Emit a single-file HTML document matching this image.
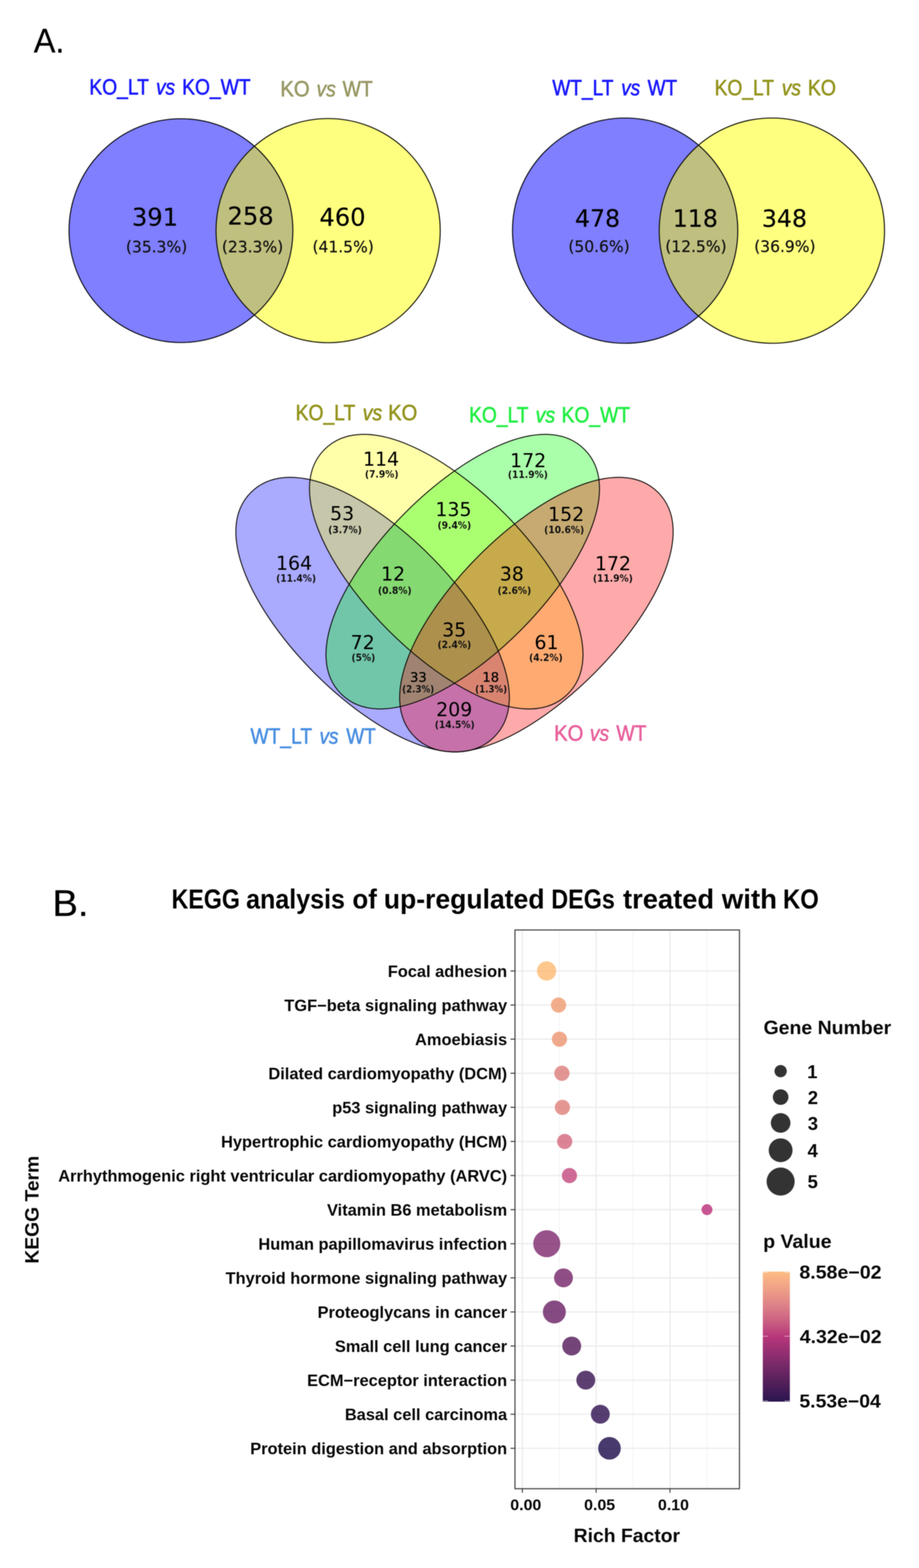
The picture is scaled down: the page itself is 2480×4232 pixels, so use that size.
<!DOCTYPE html>
<html lang="en">
<head>
<meta charset="utf-8">
<title>Venn diagrams and KEGG analysis</title>
<style>
html,body{margin:0;padding:0;background:#fff;}
body{width:2480px;height:4232px;overflow:hidden;}
svg{display:block;filter:blur(0.8px);}
text{white-space:pre;}
</style>
</head>
<body>
<svg width="2480" height="4232" viewBox="0 0 2480 4232">
<rect x="0" y="0" width="2480" height="4232" fill="#ffffff"/>
<g id="panelA">
<text x="90.9" y="142.4" font-size="93" fill="#000" font-family='"Liberation Sans", Arial, Helvetica, sans-serif' textLength="83.0" lengthAdjust="spacingAndGlyphs" stroke="#000" stroke-width="0.6" stroke-linejoin="round">A.</text>
<circle cx="488.3" cy="622.5" r="302" fill="#0000ff" fill-opacity="0.5"/>
<circle cx="885.5" cy="622.5" r="302.5" fill="#ffff00" fill-opacity="0.5"/>
<circle cx="488.3" cy="622.5" r="302" fill="none" stroke="#08080f" stroke-width="2.7"/>
<circle cx="885.5" cy="622.5" r="302.5" fill="none" stroke="#0d0d04" stroke-width="2.7"/>
<text x="356.0" y="609.0" font-size="65.5" fill="#000" font-family='"DejaVu Sans", "Liberation Sans", sans-serif' textLength="124.6" lengthAdjust="spacingAndGlyphs" stroke="#000" stroke-width="0.4" stroke-linejoin="round">391</text>
<text x="339.7" y="680.5" font-size="43.5" fill="#111" font-family='"DejaVu Sans", "Liberation Sans", sans-serif' textLength="165.6" lengthAdjust="spacingAndGlyphs" stroke="#111" stroke-width="0.5" stroke-linejoin="round">(35.3%)</text>
<text x="614.0" y="606.0" font-size="65.5" fill="#000" font-family='"DejaVu Sans", "Liberation Sans", sans-serif' textLength="124.6" lengthAdjust="spacingAndGlyphs" stroke="#000" stroke-width="0.4" stroke-linejoin="round">258</text>
<text x="598.7" y="680.5" font-size="43.5" fill="#111" font-family='"DejaVu Sans", "Liberation Sans", sans-serif' textLength="165.6" lengthAdjust="spacingAndGlyphs" stroke="#111" stroke-width="0.5" stroke-linejoin="round">(23.3%)</text>
<text x="862.0" y="609.0" font-size="65.5" fill="#000" font-family='"DejaVu Sans", "Liberation Sans", sans-serif' textLength="124.6" lengthAdjust="spacingAndGlyphs" stroke="#000" stroke-width="0.4" stroke-linejoin="round">460</text>
<text x="843.2" y="680.5" font-size="43.5" fill="#111" font-family='"DejaVu Sans", "Liberation Sans", sans-serif' textLength="165.6" lengthAdjust="spacingAndGlyphs" stroke="#111" stroke-width="0.5" stroke-linejoin="round">(41.5%)</text>
<circle cx="1687" cy="622.5" r="304" fill="#0000ff" fill-opacity="0.5"/>
<circle cx="2083" cy="622.5" r="304" fill="#ffff00" fill-opacity="0.5"/>
<circle cx="1687" cy="622.5" r="304" fill="none" stroke="#08080f" stroke-width="2.7"/>
<circle cx="2083" cy="622.5" r="304" fill="none" stroke="#0d0d04" stroke-width="2.7"/>
<text x="1551.7" y="612.0" font-size="64" fill="#000" font-family='"DejaVu Sans", "Liberation Sans", sans-serif' textLength="121.7" lengthAdjust="spacingAndGlyphs" stroke="#000" stroke-width="0.4" stroke-linejoin="round">478</text>
<text x="1533.7" y="680.0" font-size="43.5" fill="#111" font-family='"DejaVu Sans", "Liberation Sans", sans-serif' textLength="165.6" lengthAdjust="spacingAndGlyphs" stroke="#111" stroke-width="0.5" stroke-linejoin="round">(50.6%)</text>
<text x="1815.5" y="612.0" font-size="64" fill="#000" font-family='"DejaVu Sans", "Liberation Sans", sans-serif' textLength="121.7" lengthAdjust="spacingAndGlyphs" stroke="#000" stroke-width="0.4" stroke-linejoin="round">118</text>
<text x="1795.2" y="680.0" font-size="43.5" fill="#111" font-family='"DejaVu Sans", "Liberation Sans", sans-serif' textLength="165.6" lengthAdjust="spacingAndGlyphs" stroke="#111" stroke-width="0.5" stroke-linejoin="round">(12.5%)</text>
<text x="2056.0" y="612.0" font-size="64" fill="#000" font-family='"DejaVu Sans", "Liberation Sans", sans-serif' textLength="121.7" lengthAdjust="spacingAndGlyphs" stroke="#000" stroke-width="0.4" stroke-linejoin="round">348</text>
<text x="2035.2" y="680.0" font-size="43.5" fill="#111" font-family='"DejaVu Sans", "Liberation Sans", sans-serif' textLength="165.6" lengthAdjust="spacingAndGlyphs" stroke="#111" stroke-width="0.5" stroke-linejoin="round">(36.9%)</text>
<text y="255.2" font-size="60" fill="#1a1aff" font-family='"Liberation Sans", Arial, Helvetica, sans-serif' stroke="#1a1aff" stroke-width="1.5" stroke-linejoin="round"><tspan x="241.0" textLength="159.9" lengthAdjust="spacingAndGlyphs">KO_LT</tspan> <tspan x="421.3" textLength="51.0" lengthAdjust="spacingAndGlyphs" font-style="italic">vs</tspan> <tspan x="491.5" textLength="184.6" lengthAdjust="spacingAndGlyphs">KO_WT</tspan></text>
<text y="260.2" font-size="60" fill="#999966" font-family='"Liberation Sans", Arial, Helvetica, sans-serif' stroke="#999966" stroke-width="1.5" stroke-linejoin="round"><tspan x="756.6" textLength="79.1" lengthAdjust="spacingAndGlyphs">KO</tspan> <tspan x="854.2" textLength="52.0" lengthAdjust="spacingAndGlyphs" font-style="italic">vs</tspan> <tspan x="924.5" textLength="81.4" lengthAdjust="spacingAndGlyphs">WT</tspan></text>
<text y="257.2" font-size="60" fill="#1a1aff" font-family='"Liberation Sans", Arial, Helvetica, sans-serif' stroke="#1a1aff" stroke-width="1.5" stroke-linejoin="round"><tspan x="1490.5" textLength="164.0" lengthAdjust="spacingAndGlyphs">WT_LT</tspan> <tspan x="1676.6" textLength="50.9" lengthAdjust="spacingAndGlyphs" font-style="italic">vs</tspan> <tspan x="1747.8" textLength="79.4" lengthAdjust="spacingAndGlyphs">WT</tspan></text>
<text y="257.2" font-size="60" fill="#94941e" font-family='"Liberation Sans", Arial, Helvetica, sans-serif' stroke="#94941e" stroke-width="1.5" stroke-linejoin="round"><tspan x="1928.4" textLength="159.3" lengthAdjust="spacingAndGlyphs">KO_LT</tspan> <tspan x="2109.8" textLength="51.6" lengthAdjust="spacingAndGlyphs" font-style="italic">vs</tspan> <tspan x="2179.9" textLength="76.1" lengthAdjust="spacingAndGlyphs">KO</tspan></text>
</g>
<g id="venn4">
<path d="M0,-465.5 C296.40,-465.5 296.40,465.5 0,465.5 C-296.40,465.5 -296.40,-465.5 0,-465.5 Z" transform="translate(1005.5 1658.9) rotate(-44.80)" fill="#0000ff" fill-opacity="0.333"/>
<path d="M0,-465.5 C296.40,-465.5 296.40,465.5 0,465.5 C-296.40,465.5 -296.40,-465.5 0,-465.5 Z" transform="translate(1204.2 1542.9) rotate(-44.80)" fill="#ffff00" fill-opacity="0.333"/>
<path d="M0,-465.5 C296.40,-465.5 296.40,465.5 0,465.5 C-296.40,465.5 -296.40,-465.5 0,-465.5 Z" transform="translate(1248.8 1542.9) rotate(44.80)" fill="#00ff00" fill-opacity="0.333"/>
<path d="M0,-465.5 C296.40,-465.5 296.40,465.5 0,465.5 C-296.40,465.5 -296.40,-465.5 0,-465.5 Z" transform="translate(1447.5 1658.9) rotate(44.80)" fill="#ff0000" fill-opacity="0.333"/>
<path d="M0,-465.5 C296.40,-465.5 296.40,465.5 0,465.5 C-296.40,465.5 -296.40,-465.5 0,-465.5 Z" transform="translate(1005.5 1658.9) rotate(-44.80)" fill="none" stroke="#0a0806" stroke-width="2.5"/>
<path d="M0,-465.5 C296.40,-465.5 296.40,465.5 0,465.5 C-296.40,465.5 -296.40,-465.5 0,-465.5 Z" transform="translate(1204.2 1542.9) rotate(-44.80)" fill="none" stroke="#0a0806" stroke-width="2.5"/>
<path d="M0,-465.5 C296.40,-465.5 296.40,465.5 0,465.5 C-296.40,465.5 -296.40,-465.5 0,-465.5 Z" transform="translate(1248.8 1542.9) rotate(44.80)" fill="none" stroke="#0a0806" stroke-width="2.5"/>
<path d="M0,-465.5 C296.40,-465.5 296.40,465.5 0,465.5 C-296.40,465.5 -296.40,-465.5 0,-465.5 Z" transform="translate(1447.5 1658.9) rotate(44.80)" fill="none" stroke="#0a0806" stroke-width="2.5"/>
<text x="979.6" y="1256.8" font-size="51" fill="#000" font-family='"DejaVu Sans", "Liberation Sans", sans-serif' textLength="97.3" lengthAdjust="spacingAndGlyphs">114</text>
<text x="984.7" y="1288.5" font-size="26.5" fill="#111" font-family='"DejaVu Sans", "Liberation Sans", sans-serif' font-weight="bold" textLength="90.7" lengthAdjust="spacingAndGlyphs">(7.9%)</text>
<text x="1376.6" y="1261.2" font-size="51" fill="#000" font-family='"DejaVu Sans", "Liberation Sans", sans-serif' textLength="97.3" lengthAdjust="spacingAndGlyphs">172</text>
<text x="1370.6" y="1289.5" font-size="26.5" fill="#111" font-family='"DejaVu Sans", "Liberation Sans", sans-serif' font-weight="bold" textLength="107.8" lengthAdjust="spacingAndGlyphs">(11.9%)</text>
<text x="890.8" y="1404.3" font-size="51" fill="#000" font-family='"DejaVu Sans", "Liberation Sans", sans-serif' textLength="64.9" lengthAdjust="spacingAndGlyphs">53</text>
<text x="885.7" y="1438.5" font-size="26.5" fill="#111" font-family='"DejaVu Sans", "Liberation Sans", sans-serif' font-weight="bold" textLength="90.7" lengthAdjust="spacingAndGlyphs">(3.7%)</text>
<text x="1175.1" y="1393.3" font-size="51" fill="#000" font-family='"DejaVu Sans", "Liberation Sans", sans-serif' textLength="97.3" lengthAdjust="spacingAndGlyphs">135</text>
<text x="1180.7" y="1426.5" font-size="26.5" fill="#111" font-family='"DejaVu Sans", "Liberation Sans", sans-serif' font-weight="bold" textLength="90.7" lengthAdjust="spacingAndGlyphs">(9.4%)</text>
<text x="1479.1" y="1405.6" font-size="51" fill="#000" font-family='"DejaVu Sans", "Liberation Sans", sans-serif' textLength="97.3" lengthAdjust="spacingAndGlyphs">152</text>
<text x="1468.6" y="1438.5" font-size="26.5" fill="#111" font-family='"DejaVu Sans", "Liberation Sans", sans-serif' font-weight="bold" textLength="107.8" lengthAdjust="spacingAndGlyphs">(10.6%)</text>
<text x="744.8" y="1537.6" font-size="51" fill="#000" font-family='"DejaVu Sans", "Liberation Sans", sans-serif' textLength="97.3" lengthAdjust="spacingAndGlyphs">164</text>
<text x="745.2" y="1569.5" font-size="26.5" fill="#111" font-family='"DejaVu Sans", "Liberation Sans", sans-serif' font-weight="bold" textLength="107.8" lengthAdjust="spacingAndGlyphs">(11.4%)</text>
<text x="1028.3" y="1567.0" font-size="51" fill="#000" font-family='"DejaVu Sans", "Liberation Sans", sans-serif' textLength="64.9" lengthAdjust="spacingAndGlyphs">12</text>
<text x="1020.1" y="1602.5" font-size="26.5" fill="#111" font-family='"DejaVu Sans", "Liberation Sans", sans-serif' font-weight="bold" textLength="90.7" lengthAdjust="spacingAndGlyphs">(0.8%)</text>
<text x="1348.8" y="1567.0" font-size="51" fill="#000" font-family='"DejaVu Sans", "Liberation Sans", sans-serif' textLength="64.9" lengthAdjust="spacingAndGlyphs">38</text>
<text x="1342.7" y="1602.5" font-size="26.5" fill="#111" font-family='"DejaVu Sans", "Liberation Sans", sans-serif' font-weight="bold" textLength="90.7" lengthAdjust="spacingAndGlyphs">(2.6%)</text>
<text x="1605.5" y="1538.5" font-size="51" fill="#000" font-family='"DejaVu Sans", "Liberation Sans", sans-serif' textLength="97.3" lengthAdjust="spacingAndGlyphs">172</text>
<text x="1599.9" y="1569.5" font-size="26.5" fill="#111" font-family='"DejaVu Sans", "Liberation Sans", sans-serif' font-weight="bold" textLength="107.8" lengthAdjust="spacingAndGlyphs">(11.9%)</text>
<text x="946.3" y="1751.6" font-size="51" fill="#000" font-family='"DejaVu Sans", "Liberation Sans", sans-serif' textLength="64.9" lengthAdjust="spacingAndGlyphs">72</text>
<text x="948.6" y="1783.5" font-size="26.5" fill="#111" font-family='"DejaVu Sans", "Liberation Sans", sans-serif' font-weight="bold" textLength="64.2" lengthAdjust="spacingAndGlyphs">(5%)</text>
<text x="1193.3" y="1718.0" font-size="51" fill="#000" font-family='"DejaVu Sans", "Liberation Sans", sans-serif' textLength="64.9" lengthAdjust="spacingAndGlyphs">35</text>
<text x="1180.7" y="1748.5" font-size="26.5" fill="#111" font-family='"DejaVu Sans", "Liberation Sans", sans-serif' font-weight="bold" textLength="90.7" lengthAdjust="spacingAndGlyphs">(2.4%)</text>
<text x="1442.3" y="1751.6" font-size="51" fill="#000" font-family='"DejaVu Sans", "Liberation Sans", sans-serif' textLength="64.9" lengthAdjust="spacingAndGlyphs">61</text>
<text x="1427.7" y="1783.5" font-size="26.5" fill="#111" font-family='"DejaVu Sans", "Liberation Sans", sans-serif' font-weight="bold" textLength="90.7" lengthAdjust="spacingAndGlyphs">(4.2%)</text>
<text x="1177.1" y="1933.0" font-size="51" fill="#000" font-family='"DejaVu Sans", "Liberation Sans", sans-serif' textLength="97.3" lengthAdjust="spacingAndGlyphs">209</text>
<text x="1173.2" y="1964.5" font-size="26.5" fill="#111" font-family='"DejaVu Sans", "Liberation Sans", sans-serif' font-weight="bold" textLength="107.8" lengthAdjust="spacingAndGlyphs">(14.5%)</text>
<text x="1106.4" y="1839.8" font-size="36" fill="#000" font-family='"DejaVu Sans", "Liberation Sans", sans-serif' textLength="45.2" lengthAdjust="spacingAndGlyphs" stroke="#000" stroke-width="0.6" stroke-linejoin="round">33</text>
<text x="1085.3" y="1868.5" font-size="26" fill="#111" font-family='"DejaVu Sans", "Liberation Sans", sans-serif' font-weight="bold" textLength="86.3" lengthAdjust="spacingAndGlyphs">(2.3%)</text>
<text x="1301.7" y="1839.8" font-size="36" fill="#000" font-family='"DejaVu Sans", "Liberation Sans", sans-serif' textLength="45.1" lengthAdjust="spacingAndGlyphs" stroke="#000" stroke-width="0.6" stroke-linejoin="round">18</text>
<text x="1282.2" y="1868.5" font-size="26" fill="#111" font-family='"DejaVu Sans", "Liberation Sans", sans-serif' font-weight="bold" textLength="86.3" lengthAdjust="spacingAndGlyphs">(1.3%)</text>
<text y="1133.8" font-size="60" fill="#94941e" font-family='"Liberation Sans", Arial, Helvetica, sans-serif' stroke="#94941e" stroke-width="1.5" stroke-linejoin="round"><tspan x="797.8" textLength="159.9" lengthAdjust="spacingAndGlyphs">KO_LT</tspan> <tspan x="978.7" textLength="52.7" lengthAdjust="spacingAndGlyphs" font-style="italic">vs</tspan> <tspan x="1047.4" textLength="78.7" lengthAdjust="spacingAndGlyphs">KO</tspan></text>
<text y="1139.6" font-size="60" fill="#22ee44" font-family='"Liberation Sans", Arial, Helvetica, sans-serif' stroke="#22ee44" stroke-width="1.5" stroke-linejoin="round"><tspan x="1266.1" textLength="159.2" lengthAdjust="spacingAndGlyphs">KO_LT</tspan> <tspan x="1445.3" textLength="52.8" lengthAdjust="spacingAndGlyphs" font-style="italic">vs</tspan> <tspan x="1515.6" textLength="184.6" lengthAdjust="spacingAndGlyphs">KO_WT</tspan></text>
<text y="2006.8" font-size="60" fill="#4a90e2" font-family='"Liberation Sans", Arial, Helvetica, sans-serif' stroke="#4a90e2" stroke-width="1.5" stroke-linejoin="round"><tspan x="676.1" textLength="165.0" lengthAdjust="spacingAndGlyphs">WT_LT</tspan> <tspan x="862.2" textLength="51.3" lengthAdjust="spacingAndGlyphs" font-style="italic">vs</tspan> <tspan x="934.5" textLength="79.3" lengthAdjust="spacingAndGlyphs">WT</tspan></text>
<text y="1998.7" font-size="60" fill="#e8619c" font-family='"Liberation Sans", Arial, Helvetica, sans-serif' stroke="#e8619c" stroke-width="1.5" stroke-linejoin="round"><tspan x="1495.3" textLength="79.0" lengthAdjust="spacingAndGlyphs">KO</tspan> <tspan x="1591.7" textLength="52.1" lengthAdjust="spacingAndGlyphs" font-style="italic">vs</tspan> <tspan x="1663.2" textLength="81.3" lengthAdjust="spacingAndGlyphs">WT</tspan></text>
</g>
<g id="panelB">
<text x="141.4" y="2471.6" font-size="101" fill="#000" font-family='"Liberation Sans", Arial, Helvetica, sans-serif' textLength="97.4" lengthAdjust="spacingAndGlyphs" stroke="#000" stroke-width="0.6" stroke-linejoin="round">B.</text>
<text y="2452.0" font-size="75" fill="#000" font-family='"Liberation Sans", Arial, Helvetica, sans-serif' font-weight="bold"><tspan x="463.1" textLength="184.5" lengthAdjust="spacingAndGlyphs">KEGG</tspan> <tspan x="664.2" textLength="266.7" lengthAdjust="spacingAndGlyphs">analysis</tspan> <tspan x="951.1" textLength="65.9" lengthAdjust="spacingAndGlyphs">of</tspan> <tspan x="1035.8" textLength="433.6" lengthAdjust="spacingAndGlyphs">up-regulated</tspan> <tspan x="1487.8" textLength="171.4" lengthAdjust="spacingAndGlyphs">DEGs</tspan> <tspan x="1681.3" textLength="245.7" lengthAdjust="spacingAndGlyphs">treated</tspan> <tspan x="1947.7" textLength="149.1" lengthAdjust="spacingAndGlyphs">with</tspan> <tspan x="2113.0" textLength="96.8" lengthAdjust="spacingAndGlyphs">KO</tspan></text>
<rect x="1389.7" y="2510" width="605.8" height="1508" fill="#fff"/>
<line x1="1509.2" y1="2510" x2="1509.2" y2="4018" stroke="#f0f0f0" stroke-width="1.8"/>
<line x1="1708.4" y1="2510" x2="1708.4" y2="4018" stroke="#f0f0f0" stroke-width="1.8"/>
<line x1="1907.6" y1="2510" x2="1907.6" y2="4018" stroke="#f0f0f0" stroke-width="1.8"/>
<line x1="1409.6" y1="2510" x2="1409.6" y2="4018" stroke="#ebebeb" stroke-width="3.2"/>
<line x1="1608.8" y1="2510" x2="1608.8" y2="4018" stroke="#ebebeb" stroke-width="3.2"/>
<line x1="1808.0" y1="2510" x2="1808.0" y2="4018" stroke="#ebebeb" stroke-width="3.2"/>
<line x1="1389.7" y1="2620.6" x2="1995.5" y2="2620.6" stroke="#ebebeb" stroke-width="3.2"/>
<line x1="1389.7" y1="2712.6" x2="1995.5" y2="2712.6" stroke="#ebebeb" stroke-width="3.2"/>
<line x1="1389.7" y1="2804.7" x2="1995.5" y2="2804.7" stroke="#ebebeb" stroke-width="3.2"/>
<line x1="1389.7" y1="2896.7" x2="1995.5" y2="2896.7" stroke="#ebebeb" stroke-width="3.2"/>
<line x1="1389.7" y1="2988.7" x2="1995.5" y2="2988.7" stroke="#ebebeb" stroke-width="3.2"/>
<line x1="1389.7" y1="3080.8" x2="1995.5" y2="3080.8" stroke="#ebebeb" stroke-width="3.2"/>
<line x1="1389.7" y1="3172.8" x2="1995.5" y2="3172.8" stroke="#ebebeb" stroke-width="3.2"/>
<line x1="1389.7" y1="3264.8" x2="1995.5" y2="3264.8" stroke="#ebebeb" stroke-width="3.2"/>
<line x1="1389.7" y1="3356.8" x2="1995.5" y2="3356.8" stroke="#ebebeb" stroke-width="3.2"/>
<line x1="1389.7" y1="3448.9" x2="1995.5" y2="3448.9" stroke="#ebebeb" stroke-width="3.2"/>
<line x1="1389.7" y1="3540.9" x2="1995.5" y2="3540.9" stroke="#ebebeb" stroke-width="3.2"/>
<line x1="1389.7" y1="3632.9" x2="1995.5" y2="3632.9" stroke="#ebebeb" stroke-width="3.2"/>
<line x1="1389.7" y1="3725.0" x2="1995.5" y2="3725.0" stroke="#ebebeb" stroke-width="3.2"/>
<line x1="1389.7" y1="3817.0" x2="1995.5" y2="3817.0" stroke="#ebebeb" stroke-width="3.2"/>
<line x1="1389.7" y1="3909.0" x2="1995.5" y2="3909.0" stroke="#ebebeb" stroke-width="3.2"/>
<circle cx="1475.0" cy="2620.6" r="26.0" fill="rgb(252,185,113)" fill-opacity="0.8"/>
<circle cx="1507.3" cy="2712.6" r="20.5" fill="rgb(239,154,111)" fill-opacity="0.8"/>
<circle cx="1509.7" cy="2804.7" r="20.5" fill="rgb(236,148,111)" fill-opacity="0.8"/>
<circle cx="1516.3" cy="2896.7" r="20.5" fill="rgb(220,123,121)" fill-opacity="0.8"/>
<circle cx="1517.7" cy="2988.7" r="20.5" fill="rgb(222,126,120)" fill-opacity="0.8"/>
<circle cx="1523.9" cy="3080.8" r="20.5" fill="rgb(211,101,124)" fill-opacity="0.8"/>
<circle cx="1536.7" cy="3172.8" r="20.5" fill="rgb(195,70,125)" fill-opacity="0.8"/>
<circle cx="1907.8" cy="3264.8" r="14.7" fill="rgb(186,43,121)" fill-opacity="0.8"/>
<circle cx="1475.5" cy="3356.8" r="36.5" fill="rgb(125,39,109)" fill-opacity="0.8"/>
<circle cx="1520.6" cy="3448.9" r="25.5" fill="rgb(115,34,104)" fill-opacity="0.8"/>
<circle cx="1496.0" cy="3540.9" r="31.0" fill="rgb(104,29,99)" fill-opacity="0.8"/>
<circle cx="1542.8" cy="3632.9" r="25.5" fill="rgb(81,23,88)" fill-opacity="0.8"/>
<circle cx="1580.8" cy="3725.0" r="25.5" fill="rgb(53,15,79)" fill-opacity="0.8"/>
<circle cx="1620.0" cy="3817.0" r="25.5" fill="rgb(45,14,79)" fill-opacity="0.8"/>
<circle cx="1644.7" cy="3909.0" r="30.5" fill="rgb(26,9,71)" fill-opacity="0.8"/>
<rect x="1389.7" y="2510" width="605.8" height="1508" fill="none" stroke="#4d4d4d" stroke-width="3.2"/>
<line x1="1377.7" y1="2620.6" x2="1389.7" y2="2620.6" stroke="#333" stroke-width="2.6"/>
<text x="1368.5" y="2636.6" font-size="44.25" fill="#080808" font-family='"Liberation Sans", Arial, Helvetica, sans-serif' font-weight="bold" text-anchor="end">Focal adhesion</text>
<line x1="1377.7" y1="2712.6" x2="1389.7" y2="2712.6" stroke="#333" stroke-width="2.6"/>
<text x="1368.5" y="2728.6" font-size="44.25" fill="#080808" font-family='"Liberation Sans", Arial, Helvetica, sans-serif' font-weight="bold" text-anchor="end">TGF−beta signaling pathway</text>
<line x1="1377.7" y1="2804.7" x2="1389.7" y2="2804.7" stroke="#333" stroke-width="2.6"/>
<text x="1368.5" y="2820.7" font-size="44.25" fill="#080808" font-family='"Liberation Sans", Arial, Helvetica, sans-serif' font-weight="bold" text-anchor="end">Amoebiasis</text>
<line x1="1377.7" y1="2896.7" x2="1389.7" y2="2896.7" stroke="#333" stroke-width="2.6"/>
<text x="1368.5" y="2912.7" font-size="44.25" fill="#080808" font-family='"Liberation Sans", Arial, Helvetica, sans-serif' font-weight="bold" text-anchor="end">Dilated cardiomyopathy (DCM)</text>
<line x1="1377.7" y1="2988.7" x2="1389.7" y2="2988.7" stroke="#333" stroke-width="2.6"/>
<text x="1368.5" y="3004.7" font-size="44.25" fill="#080808" font-family='"Liberation Sans", Arial, Helvetica, sans-serif' font-weight="bold" text-anchor="end">p53 signaling pathway</text>
<line x1="1377.7" y1="3080.8" x2="1389.7" y2="3080.8" stroke="#333" stroke-width="2.6"/>
<text x="1368.5" y="3096.8" font-size="44.25" fill="#080808" font-family='"Liberation Sans", Arial, Helvetica, sans-serif' font-weight="bold" text-anchor="end">Hypertrophic cardiomyopathy (HCM)</text>
<line x1="1377.7" y1="3172.8" x2="1389.7" y2="3172.8" stroke="#333" stroke-width="2.6"/>
<text x="1368.5" y="3188.8" font-size="44.25" fill="#080808" font-family='"Liberation Sans", Arial, Helvetica, sans-serif' font-weight="bold" text-anchor="end">Arrhythmogenic right ventricular cardiomyopathy (ARVC)</text>
<line x1="1377.7" y1="3264.8" x2="1389.7" y2="3264.8" stroke="#333" stroke-width="2.6"/>
<text x="1368.5" y="3280.8" font-size="44.25" fill="#080808" font-family='"Liberation Sans", Arial, Helvetica, sans-serif' font-weight="bold" text-anchor="end">Vitamin B6 metabolism</text>
<line x1="1377.7" y1="3356.8" x2="1389.7" y2="3356.8" stroke="#333" stroke-width="2.6"/>
<text x="1368.5" y="3372.8" font-size="44.25" fill="#080808" font-family='"Liberation Sans", Arial, Helvetica, sans-serif' font-weight="bold" text-anchor="end">Human papillomavirus infection</text>
<line x1="1377.7" y1="3448.9" x2="1389.7" y2="3448.9" stroke="#333" stroke-width="2.6"/>
<text x="1368.5" y="3464.9" font-size="44.25" fill="#080808" font-family='"Liberation Sans", Arial, Helvetica, sans-serif' font-weight="bold" text-anchor="end">Thyroid hormone signaling pathway</text>
<line x1="1377.7" y1="3540.9" x2="1389.7" y2="3540.9" stroke="#333" stroke-width="2.6"/>
<text x="1368.5" y="3556.9" font-size="44.25" fill="#080808" font-family='"Liberation Sans", Arial, Helvetica, sans-serif' font-weight="bold" text-anchor="end">Proteoglycans in cancer</text>
<line x1="1377.7" y1="3632.9" x2="1389.7" y2="3632.9" stroke="#333" stroke-width="2.6"/>
<text x="1368.5" y="3648.9" font-size="44.25" fill="#080808" font-family='"Liberation Sans", Arial, Helvetica, sans-serif' font-weight="bold" text-anchor="end">Small cell lung cancer</text>
<line x1="1377.7" y1="3725.0" x2="1389.7" y2="3725.0" stroke="#333" stroke-width="2.6"/>
<text x="1368.5" y="3741.0" font-size="44.25" fill="#080808" font-family='"Liberation Sans", Arial, Helvetica, sans-serif' font-weight="bold" text-anchor="end">ECM−receptor interaction</text>
<line x1="1377.7" y1="3817.0" x2="1389.7" y2="3817.0" stroke="#333" stroke-width="2.6"/>
<text x="1368.5" y="3833.0" font-size="44.25" fill="#080808" font-family='"Liberation Sans", Arial, Helvetica, sans-serif' font-weight="bold" text-anchor="end">Basal cell carcinoma</text>
<line x1="1377.7" y1="3909.0" x2="1389.7" y2="3909.0" stroke="#333" stroke-width="2.6"/>
<text x="1368.5" y="3925.0" font-size="44.25" fill="#080808" font-family='"Liberation Sans", Arial, Helvetica, sans-serif' font-weight="bold" text-anchor="end">Protein digestion and absorption</text>
<line x1="1409.6" y1="4018" x2="1409.6" y2="4029" stroke="#333" stroke-width="2.6"/>
<text x="1377.1" y="4075.5" font-size="43" fill="#080808" font-family='"Liberation Sans", Arial, Helvetica, sans-serif' font-weight="bold" textLength="83.7" lengthAdjust="spacingAndGlyphs">0.00</text>
<line x1="1608.8" y1="4018" x2="1608.8" y2="4029" stroke="#333" stroke-width="2.6"/>
<text x="1576.3" y="4075.5" font-size="43" fill="#080808" font-family='"Liberation Sans", Arial, Helvetica, sans-serif' font-weight="bold" textLength="83.7" lengthAdjust="spacingAndGlyphs">0.05</text>
<line x1="1808.0" y1="4018" x2="1808.0" y2="4029" stroke="#333" stroke-width="2.6"/>
<text x="1775.5" y="4075.5" font-size="43" fill="#080808" font-family='"Liberation Sans", Arial, Helvetica, sans-serif' font-weight="bold" textLength="83.7" lengthAdjust="spacingAndGlyphs">0.10</text>
<text x="1548.0" y="4162.0" font-size="52" fill="#080808" font-family='"Liberation Sans", Arial, Helvetica, sans-serif' font-weight="bold" textLength="287.2" lengthAdjust="spacingAndGlyphs">Rich Factor</text>
<text transform="translate(103.5 3265) rotate(-90)" font-size="52" font-weight="bold" text-anchor="middle" fill="#080808" font-family='"Liberation Sans", Arial, Helvetica, sans-serif'>KEGG Term</text>
<text x="2060.4" y="2791.0" font-size="52" fill="#080808" font-family='"Liberation Sans", Arial, Helvetica, sans-serif' font-weight="bold" textLength="344.5" lengthAdjust="spacingAndGlyphs">Gene Number</text>
<circle cx="2106.6" cy="2891" r="16.6" fill="#333"/>
<text x="2178.3" y="2909.6" font-size="50" fill="#080808" font-family='"Liberation Sans", Arial, Helvetica, sans-serif' font-weight="bold" textLength="27.8" lengthAdjust="spacingAndGlyphs">1</text>
<circle cx="2106.6" cy="2961" r="21.1" fill="#333"/>
<text x="2179.8" y="2979.5" font-size="50" fill="#080808" font-family='"Liberation Sans", Arial, Helvetica, sans-serif' font-weight="bold" textLength="27.8" lengthAdjust="spacingAndGlyphs">2</text>
<circle cx="2106.6" cy="3030.8" r="26.5" fill="#333"/>
<text x="2179.8" y="3050.3" font-size="50" fill="#080808" font-family='"Liberation Sans", Arial, Helvetica, sans-serif' font-weight="bold" textLength="27.8" lengthAdjust="spacingAndGlyphs">3</text>
<circle cx="2106.6" cy="3104.6" r="32.2" fill="#333"/>
<text x="2179.3" y="3123.0" font-size="50" fill="#080808" font-family='"Liberation Sans", Arial, Helvetica, sans-serif' font-weight="bold" textLength="27.8" lengthAdjust="spacingAndGlyphs">4</text>
<circle cx="2106.6" cy="3189" r="37.9" fill="#333"/>
<text x="2179.3" y="3207.0" font-size="50" fill="#080808" font-family='"Liberation Sans", Arial, Helvetica, sans-serif' font-weight="bold" textLength="27.8" lengthAdjust="spacingAndGlyphs">5</text>
<text x="2059.4" y="3367.7" font-size="52" fill="#080808" font-family='"Liberation Sans", Arial, Helvetica, sans-serif' font-weight="bold" textLength="184.6" lengthAdjust="spacingAndGlyphs">p Value</text>
<defs><linearGradient id="mg" x1="0" y1="0" x2="0" y2="1"><stop offset="0" stop-color="#fdbd84"/><stop offset="0.125" stop-color="#f0a287"/><stop offset="0.25" stop-color="#df8489"/><stop offset="0.375" stop-color="#cc6283"/><stop offset="0.5" stop-color="#b7377a"/><stop offset="0.625" stop-color="#932f72"/><stop offset="0.75" stop-color="#702765"/><stop offset="0.875" stop-color="#4d1e59"/><stop offset="1" stop-color="#2a154f"/></linearGradient></defs>
<rect x="2058.5" y="3432" width="73" height="351" fill="url(#mg)"/>
<line x1="2058.5" y1="3434" x2="2073" y2="3434" stroke="#fff" stroke-opacity="0.7" stroke-width="1.6"/>
<line x1="2117" y1="3434" x2="2131.5" y2="3434" stroke="#fff" stroke-opacity="0.7" stroke-width="1.6"/>
<line x1="2058.5" y1="3606.5" x2="2073" y2="3606.5" stroke="#fff" stroke-opacity="0.7" stroke-width="1.6"/>
<line x1="2117" y1="3606.5" x2="2131.5" y2="3606.5" stroke="#fff" stroke-opacity="0.7" stroke-width="1.6"/>
<line x1="2058.5" y1="3781" x2="2073" y2="3781" stroke="#fff" stroke-opacity="0.7" stroke-width="1.6"/>
<line x1="2117" y1="3781" x2="2131.5" y2="3781" stroke="#fff" stroke-opacity="0.7" stroke-width="1.6"/>
<text x="2157.2" y="3450.6" font-size="50" fill="#080808" font-family='"Liberation Sans", Arial, Helvetica, sans-serif' font-weight="bold" textLength="221.7" lengthAdjust="spacingAndGlyphs">8.58e−02</text>
<text x="2158.3" y="3624.5" font-size="50" fill="#080808" font-family='"Liberation Sans", Arial, Helvetica, sans-serif' font-weight="bold" textLength="220.6" lengthAdjust="spacingAndGlyphs">4.32e−02</text>
<text x="2157.3" y="3799.0" font-size="50" fill="#080808" font-family='"Liberation Sans", Arial, Helvetica, sans-serif' font-weight="bold" textLength="219.5" lengthAdjust="spacingAndGlyphs">5.53e−04</text>
</g>
</svg>
</body>
</html>
